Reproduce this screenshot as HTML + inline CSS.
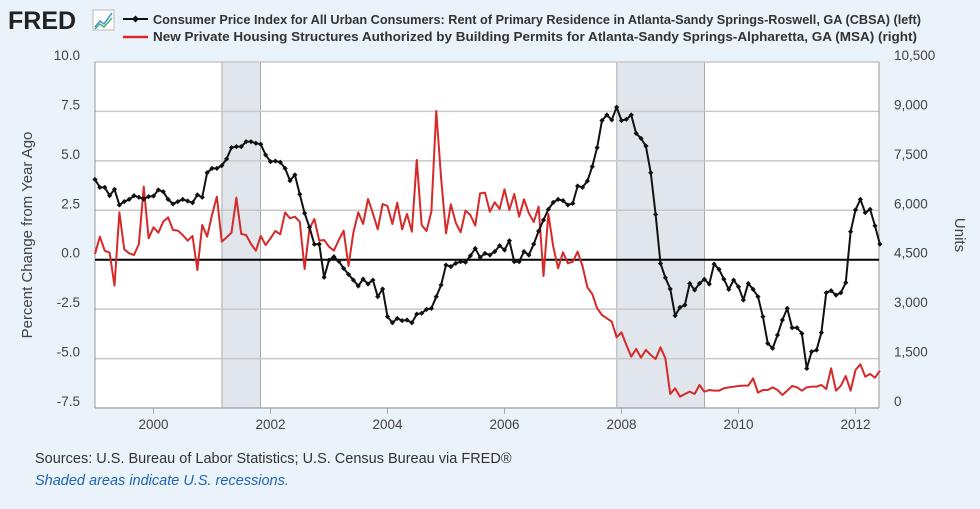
<!DOCTYPE html>
<html><head><meta charset="utf-8">
<style>
body{margin:0;width:980px;height:509px;background:#eaf2fa;font-family:"Liberation Sans",sans-serif;overflow:hidden}
svg{position:absolute;left:0;top:0}
</style></head>
<body>
<svg id="c" width="980" height="509">
 <text x="8" y="29" font-size="25" font-weight="bold" fill="#222">FRED</text>
 <g>
  <rect x="93" y="10" width="21" height="20" fill="#fff" stroke="#bbb"/>
  <polyline points="95,27 100,21 104,24 112,13" fill="none" stroke="#4a90d9" stroke-width="1.5"/>
  <polyline points="95,29 100,24 104,27 112,18" fill="none" stroke="#3cb371" stroke-width="1.5"/>
 </g>
 <g>
  <line x1="123" y1="19" x2="148" y2="19" stroke="#111" stroke-width="2"/>
  <rect x="133" y="16.5" width="5" height="5" transform="rotate(45 135.5 19)" fill="#111"/>
  <text x="153" y="24" font-size="13" font-weight="bold" fill="#333" textLength="768" lengthAdjust="spacingAndGlyphs">Consumer Price Index for All Urban Consumers: Rent of Primary Residence in Atlanta-Sandy Springs-Roswell, GA (CBSA) (left)</text>
  <line x1="123" y1="37" x2="148" y2="37" stroke="#d62a2a" stroke-width="2.5"/>
  <text x="153" y="41" font-size="13" font-weight="bold" fill="#333" textLength="764" lengthAdjust="spacingAndGlyphs">New Private Housing Structures Authorized by Building Permits for Atlanta-Sandy Springs-Alpharetta, GA (MSA) (right)</text>
 </g>
 <rect x="95" y="62" width="784" height="346" fill="#fff"/>
 <g id="rec"></g><g id="grid"></g><g id="ax"></g><g id="series"></g>
 <text transform="translate(32,235) rotate(-90)" text-anchor="middle" font-size="15" fill="#444">Percent Change from Year Ago</text>
 <text transform="translate(955,235) rotate(90)" text-anchor="middle" font-size="15" fill="#444">Units</text>
 <text x="35" y="463" font-size="14.5" fill="#333">Sources: U.S. Bureau of Labor Statistics; U.S. Census Bureau via FRED®</text>
 <text x="35" y="485" font-size="14.5" font-style="italic" fill="#1f65b5">Shaded areas indicate U.S. recessions.</text>
</svg>
<script>
const startYear = 1999;
const leftTicks = [10.0, 7.5, 5.0, 2.5, 0.0, -2.5, -5.0, -7.5];
const rightTicks = ["10,500","9,000","7,500","6,000","4,500","3,000","1,500","0"];
const xTickYears = [2000, 2002, 2004, 2006, 2008, 2010, 2012];
const recessions = [[2001.17, 2001.83], [2007.92, 2009.42]];
const cpiRent = [4.06,3.66,3.66,3.24,3.56,2.77,2.94,3.05,3.24,3.16,3.07,3.19,3.22,3.53,3.44,3.05,2.82,2.94,3.05,2.97,2.88,3.28,3.16,4.40,4.62,4.62,4.76,5.10,5.67,5.72,5.72,5.97,5.97,5.89,5.84,5.30,4.96,4.99,4.93,4.62,4.00,4.29,3.31,2.35,1.64,0.78,0.79,-0.89,-0.02,0.15,-0.07,-0.44,-0.74,-1.03,-1.33,
-0.98,-1.23,-1.03,-1.87,-1.48,-2.88,-3.19,-2.97,-3.08,-3.05,-3.19,-2.75,-2.71,-2.51,-2.46,-1.87,-1.28,-0.27,-0.35,-0.18,-0.10,-0.13,0.20,0.57,0.12,0.32,0.24,0.41,0.71,0.49,0.96,-0.10,-0.10,0.41,0.24,0.79,1.45,2.01,2.55,2.90,3.05,2.99,2.77,2.85,3.73,3.66,3.98,4.71,5.67,7.04,7.32,7.07,7.71,7.04,
7.10,7.32,6.39,6.14,5.75,4.40,2.29,-0.19,-0.91,-1.48,-2.83,-2.41,-2.29,-1.20,-1.53,-1.20,-0.99,-1.23,-0.22,-0.49,-0.98,-1.50,-1.03,-1.37,-2.04,-1.20,-1.50,-1.87,-2.88,-4.23,-4.48,-3.81,-3.05,-2.46,-3.44,-3.44,-3.73,-5.50,-4.65,-4.57,-3.69,-1.67,-1.57,-1.79,-1.67,-1.16,1.42,2.52,3.05,2.38,2.55,1.71,0.79];
const permits = [4673,5200,4775,4714,3713,5938,4815,4694,4643,4977,6717,5149,5483,5321,5655,5786,5402,5382,5250,5078,5220,4188,5554,5200,5857,6414,5048,5179,5321,6383,5281,5250,4977,4775,5220,4947,5149,5372,5271,5938,5756,5806,5655,4218,5453,5736,5078,5098,4896,4775,5098,5382,4309,5321,5938,
5584,6343,5908,5422,6191,6130,5584,6231,5422,5888,5351,7526,5554,5372,5958,9013,6970,5301,6181,5625,5331,5989,5857,5534,6515,6535,5958,6242,6039,6636,6009,6494,5807,6333,5908,5645,6110,4006,5888,4896,4239,4724,4390,4441,4744,4309,3662,3460,3025,2822,2721,2620,2145,
2296,1912,1558,1791,1528,1760,1608,1487,1841,1507,425,597,344,425,496,425,698,496,546,526,526,597,627,647,668,678,678,900,465,546,546,627,546,395,526,668,627,526,627,647,647,698,577,1204,526,678,971,526,1153,1325,951,1032,921,1133];

const NS="http://www.w3.org/2000/svg";
const X0=95,X1=879,Y0=62,Y1=408,PXY=58.5;
const xT=t=>X0+(t-startYear)*PXY;
const xI=i=>xT(startYear+i/12);
const yL=v=>Y1-(v+7.5)/17.5*(Y1-Y0);
const yR=u=>Y1-u/10500*(Y1-Y0);
function mk(tag,attrs,parent){const e=document.createElementNS(NS,tag);for(const k in attrs)e.setAttribute(k,attrs[k]);parent.appendChild(e);return e;}
const rec=document.getElementById('rec'),grid=document.getElementById('grid'),ax=document.getElementById('ax'),ser=document.getElementById('series');
recessions.forEach(r=>{
 const e=mk('rect',{x:xT(r[0]),y:Y0,width:xT(r[1])-xT(r[0]),height:Y1-Y0,fill:'#e1e6ec',stroke:'#999','stroke-width':0.8},rec);
 
 
});
leftTicks.forEach((v,i)=>{
 const y=yL(v);
 if(v!==0&&v!==-7.5){const g=mk('line',{x1:X0,x2:X1,y1:y,y2:y,stroke:'#c8c8c8','stroke-width':1.5},grid);
 
 }
 const t=mk('text',{x:80,y:y-2,'text-anchor':'end','font-size':13.5,fill:'#444'},ax);t.textContent=v.toFixed(1);
 
 
 const r=mk('text',{x:894,y:y-2,'font-size':13.5,fill:'#444'},ax);r.textContent=rightTicks[i];
 
 
});
mk('line',{x1:X0,x2:X0,y1:Y0,y2:Y1,stroke:'#999','stroke-width':1},ax);
mk('line',{x1:X1,x2:X1,y1:Y0,y2:Y1,stroke:'#999','stroke-width':1},ax);
mk('line',{x1:X0,x2:X1,y1:Y1,y2:Y1,stroke:'#aaa','stroke-width':1.5},ax);
xTickYears.forEach(yr=>{
 const x=xT(yr);
 mk('line',{x1:x,x2:x,y1:Y1,y2:Y1+6,stroke:'#aaa'},ax);
 const t=mk('text',{x:x,y:429,'text-anchor':'middle','font-size':13.5,fill:'#444'},ax);t.textContent=yr;
 
 
});
const zl=mk('line',{x1:X0,x2:X1,y1:yL(0),y2:yL(0),stroke:'#000','stroke-width':2},ser);


const rp=mk('polyline',{points:permits.map((u,i)=>xI(i)+','+yR(u)).join(' '),fill:'none',stroke:'#d62a2a','stroke-width':2,'stroke-linejoin':'round'},ser);


const bp=mk('polyline',{points:cpiRent.map((v,i)=>xI(i)+','+yL(v)).join(' '),fill:'none',stroke:'#111','stroke-width':2,'stroke-linejoin':'round'},ser);


cpiRent.forEach((v,i)=>{
 const x=xI(i),y=yL(v);
 const m=mk('path',{d:`M${x} ${y-2.6}L${x+2.6} ${y}L${x} ${y+2.6}L${x-2.6} ${y}Z`,fill:'#111'},ser);
 
 
});
</script>
</body></html>
